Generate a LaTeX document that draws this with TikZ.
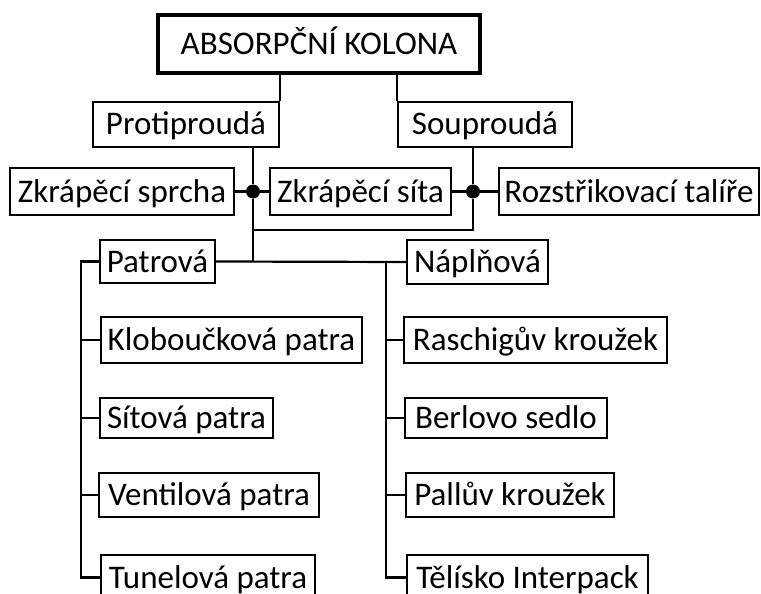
\documentclass[tikz,border=0pt]{standalone}
\usepackage{fontspec}
\setmainfont{Carlito}
\begin{document}
\begin{tikzpicture}[x=1pt,y=1pt,
  box/.style={draw, line width=2.2pt, inner sep=0pt, align=center,
    text height=21pt, text depth=0pt,
    font=\fontsize{33}{36}\selectfont},
  topbox/.style={box, line width=4pt},
  dot/.style={circle, fill=black, inner sep=0pt, minimum size=14pt},
  conn/.style={line width=2.2pt}]
\useasboundingbox (0,0) rectangle (761,-594);
\fill[white] (0,0) rectangle (761,-594);
% nodes
\node[topbox, minimum width=322, minimum height=58] (top) at (319,-44) {ABSORPČNÍ KOLONA};
\node[box, minimum width=186, minimum height=45] (prot) at (186,-124.5) {Protiproudá};
\node[box, minimum width=174, minimum height=45] (soup) at (485,-124.5) {Souproudá};
\node[box, minimum width=224, minimum height=47] (sprcha) at (122,-191.5) {Zkrápěcí sprcha};
\node[box, minimum width=181, minimum height=47] (sita) at (360.5,-191.5) {Zkrápěcí síta};
\node[box, minimum width=260, minimum height=47] (talire) at (629,-191.5) {Rozstřikovací talíře};
\node[box, minimum width=115, minimum height=43] (patr) at (157.5,-261.5) {Patrová};
\node[box, minimum width=141, minimum height=44] (napl) at (477.5,-262) {Náplňová};
\node[box, minimum width=261, minimum height=46] (klob) at (231.5,-340) {Kloboučková patra};
\node[box, minimum width=173, minimum height=40] (sit) at (186.5,-418) {Sítová patra};
\node[box, minimum width=220, minimum height=44] (vent) at (209,-495) {Ventilová patra};
\node[box, minimum width=214, minimum height=45] (tun) at (208,-577.5) {Tunelová patra};
\node[box, minimum width=263, minimum height=46] (rasch) at (535.5,-340) {Raschigův kroužek};
\node[box, minimum width=202, minimum height=40] (berl) at (506,-418) {Berlovo sedlo};
\node[box, minimum width=208, minimum height=44] (pall) at (510,-495) {Pallův kroužek};
\node[box, minimum width=241, minimum height=45] (tel) at (527.5,-577.5) {Tělísko Interpack};
% junctions
\node[dot] (d1) at (253,-191.5) {};
\node[dot] (d2) at (473,-191.5) {};
\coordinate (m) at (473,-230);
\coordinate (ls) at (81,-262);
\coordinate (rs) at (386,-262);
% connectors
\draw[conn] (prot.north east |- top.south) -- (prot.north east);
\draw[conn] (soup.north west |- top.south) -- (soup.north west);
\draw[conn] (d1 |- prot.south) -- (d1);
\draw[conn] (d1) -- (d1 |- patr.east);
\draw[conn] (sprcha.east) -- (d1) -- (sita.west);
\draw[conn] (d2 |- soup.south) -- (d2) -- (m) -- (m -| d1);
\draw[conn] (sita.east) -- (d2) -- (talire.west);
\draw[conn] (patr.east) -- (napl.west);
\draw[conn] (patr.west) -- (patr.west -| ls) |- (tun.west);
\draw[conn] (klob.west) -- (klob.west -| ls);
\draw[conn] (sit.west) -- (sit.west -| ls);
\draw[conn] (vent.west) -- (vent.west -| ls);
\draw[conn] (rs) |- (tel.west);
\draw[conn] (rasch.west) -- (rasch.west -| rs);
\draw[conn] (berl.west) -- (berl.west -| rs);
\draw[conn] (pall.west) -- (pall.west -| rs);
\end{tikzpicture}
\end{document}
